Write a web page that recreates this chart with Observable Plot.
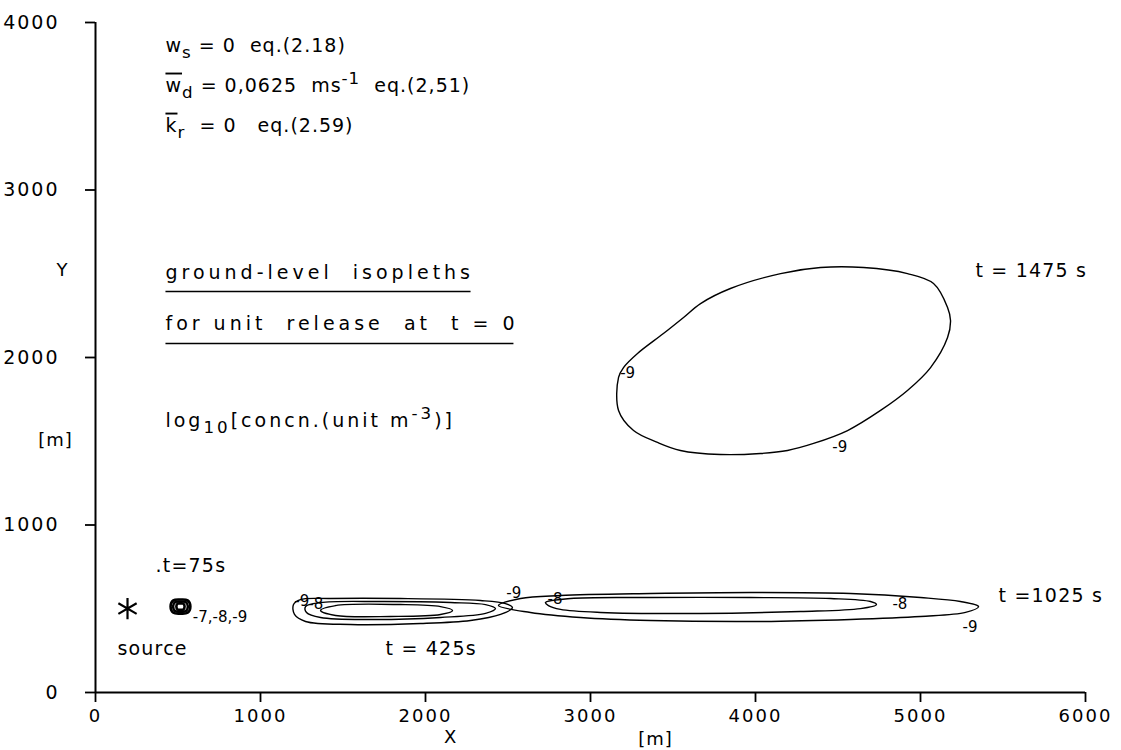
<!DOCTYPE html>
<html>
<head>
<meta charset="utf-8">
<script src="https://cdn.jsdelivr.net/npm/d3@7"></script>
<script src="https://cdn.jsdelivr.net/npm/@observablehq/plot@0.6"></script>
<style>
  html, body { margin: 0; padding: 0; background: #fff; overflow: hidden; }
  #chart { width: 1121px; height: 750px; }
  .ticks text { letter-spacing: 2px; }
  .ls-eq text { letter-spacing: 1px; }
  .ls-title text { letter-spacing: 4px; }
  .ls-log text { letter-spacing: 3px; }
  .ls-time text { letter-spacing: 1.2px; }
</style>
</head>
<body>
<div id="chart"></div>
<script>
// ---------------- data ----------------
const xTicks = [0, 1000, 2000, 3000, 4000, 5000, 6000];
const yTicks = [0, 1000, 2000, 3000, 4000];

const source = [{x: 194, y: 501}];

// contour polylines [X m, Y m], log10 concentration level
const c75_m9 = [[455,513],[472,550],[515,555],[558,550],[575,513],[558,476],[515,471],[472,476]];
const c75_m8 = [[470,513],[483,540],[515,543],[547,540],[560,513],[547,486],[515,483],[483,486]];
const c75_m7 = [[490,513],[497,530],[515,532],[533,530],[540,513],[533,496],[515,494],[497,496]];

const c425_m9 = [[1200,525],[1242,555],[1424,561],[1848,561],[2333,549],[2485,531],[2527,507],[2455,466],[2273,430],[1970,412],[1545,406],[1273,424],[1206,466]];
const c425_m8 = [[1273,513],[1364,537],[1727,543],[2152,537],[2364,525],[2424,501],[2364,472],[2091,448],[1667,436],[1364,448],[1279,478]];
const c425_m7 = [[1364,490],[1455,519],[1848,525],[2091,513],[2164,490],[2091,466],[1788,454],[1455,460]];

const c1025_m9 = [[2442,519],[2576,561],[2818,579],[3364,591],[3970,597],[4576,591],[5000,567],[5242,543],[5352,513],[5273,478],[5000,454],[4576,436],[4030,424],[3364,430],[2939,448],[2636,478]];
const c1025_m8 = [[2727,537],[2879,561],[3364,567],[3970,567],[4455,561],[4697,543],[4733,525],[4636,501],[4273,484],[3667,472],[3061,478],[2818,496],[2745,519]];

const c1475_m9 = [[4655,2537],[4394,2537],[4152,2501],[3848,2412],[3667,2322],[3564,2239],[3442,2143],[3285,2024],[3200,1940],[3170,1881],[3170,1684],[3261,1564],[3406,1493],[3545,1445],[3788,1421],[4030,1427],[4194,1445],[4352,1487],[4558,1564],[4758,1684],[4921,1803],[5061,1940],[5164,2119],[5182,2221],[5164,2299],[5079,2442],[4921,2501]];

const contourLabels = [
  {x: 3180, y: 1905, t: "-9"},
  {x: 4465, y: 1462, t: "-9"},
  {x: 2490, y: 590, t: "-9"},
  {x: 2740, y: 560, t: "-8"},
  {x: 4830, y: 528, t: "-8"},
  {x: 5255, y: 390, t: "-9"},
  {x: 1205, y: 548, t: "-9"},
  {x: 1290, y: 528, t: "-8"},
  {x: 590, y: 447, t: "-7,-8,-9"}
];

const timeLabels = [
  {x: 5333, y: 2519, t: "t = 1475 s"},
  {x: 5473, y: 579, t: "t =1025 s"},
  {x: 1758, y: 263, t: "t = 425s"},
  {x: 364, y: 758, t: ".t=75s"},
  {x: 133, y: 263, t: "source"}
];

const eqNotes = [
  {x: 424, y: 3863, t: "w_{s} = 0  eq.(2.18)"},
  {x: 424, y: 3624, t: "!{w}_{d} = 0,0625  ms^{-1}  eq.(2,51)"},
  {x: 424, y: 3385, t: "!{k}_{r}  = 0   eq.(2.59)"}
];
const titleNotes = [
  {x: 424, y: 2507, t: "ground-level  isopleths"},
  {x: 424, y: 2203, t: "for unit  release  at  t = 0"}
];
const logNote = [
  {x: 424, y: 1624, t: "log_{10}[concn.(unit m^{-3})]"}
];

const underlines = [
  {x1: 424, x2: 2273, y: 2394},
  {x1: 424, x2: 2533, y: 2084}
];

const axisTitles = [
  {x: 2152, y: -268, t: "X"},
  {x: 3394, y: -280, t: "[m]"},
  {x: -200, y: 2519, t: "Y"},
  {x: -242, y: 1504, t: "[m]"}
];

// ---------------- build table ----------------
const contours = [];
const add = (id, pts) => pts.forEach(([x, y]) => contours.push({id, x, y}));
add("425-9", c425_m9); add("425-8", c425_m8); add("425-7", c425_m7);
add("1025-9", c1025_m9); add("1025-8", c1025_m8);
add("1475-9", c1475_m9);
const contours75 = [];
[["75-9", c75_m9], ["75-8", c75_m8], ["75-7", c75_m7]].forEach(([id, pts]) => pts.forEach(([x, y]) => contours75.push({id, x, y})));

const FONT = "'DejaVu Sans', sans-serif";

const chart = Plot.plot({
  width: 1121,
  height: 750,
  marginLeft: 95,
  marginRight: 36,
  marginTop: 22,
  marginBottom: 58,
  x: {domain: [0, 6000]},
  y: {domain: [0, 4000]},
  style: {fontFamily: FONT, fontSize: "18px", color: "black", background: "white"},
  marks: [
    Plot.axisX({ticks: xTicks, tickSize: 10, tickPadding: 7, label: null, strokeWidth: 1.8, fontSize: 18, tickFormat: d => String(d), className: "ticks"}),
    Plot.axisY({ticks: yTicks, tickSize: 10, tickPadding: 26, label: null, strokeWidth: 1.8, fontSize: 19, tickFormat: d => String(d), className: "ticks"}),
    Plot.ruleY([0], {x1: 0, x2: 6000, stroke: "black", strokeWidth: 2}),
    Plot.ruleX([0], {y1: 0, y2: 4000, stroke: "black", strokeWidth: 2}),
    Plot.line(contours, {x: "x", y: "y", z: "id", curve: "catmull-rom-closed", stroke: "black", strokeWidth: 1.4}),
    Plot.line(contours75, {x: "x", y: "y", z: "id", curve: "catmull-rom-closed", stroke: "black", strokeWidth: 2.6}),
    Plot.dot(source, {x: "x", y: "y", symbol: "asterisk", r: 10, stroke: "black", strokeWidth: 2.2}),
    Plot.text(contourLabels, {x: "x", y: "y", text: "t", fontSize: 15, textAnchor: "start", fill: "black"}),
    Plot.text(timeLabels, {x: "x", y: "y", text: "t", fontSize: 19, textAnchor: "start", fill: "black", className: "ls-time"}),
    Plot.text(eqNotes, {x: "x", y: "y", text: "t", fontSize: 19, textAnchor: "start", fill: "black", className: "ls-eq"}),
    Plot.text(titleNotes, {x: "x", y: "y", text: "t", fontSize: 19, textAnchor: "start", fill: "black", className: "ls-title"}),
    Plot.text(logNote, {x: "x", y: "y", text: "t", fontSize: 19, textAnchor: "start", fill: "black", className: "ls-log"}),
    Plot.link(underlines, {x1: "x1", x2: "x2", y1: "y", y2: "y", stroke: "black", strokeWidth: 1.6}),
    Plot.text(axisTitles, {x: "x", y: "y", text: "t", fontSize: 18, textAnchor: "middle", fill: "black", className: "ls-eq"})
  ]
});

// rich text: _{sub}, ^{sup}, !{overline}
d3.select(chart).selectAll("text").each(function() {
  const el = d3.select(this);
  const s = this.textContent;
  if (!/[_^!]\{/.test(s)) return;
  el.text(null);
  const parts = s.match(/!\{[^}]*\}|_\{[^}]*\}|\^\{[^}]*\}|[^!_^]+/g);
  let shift = 0;
  for (const p of parts) {
    let txt = p, dy = 0, small = false, over = false;
    if (p.startsWith("!{")) { txt = p.slice(2, -1); over = true; }
    else if (p.startsWith("_{")) { txt = p.slice(2, -1); dy = 6; small = true; }
    else if (p.startsWith("^{")) { txt = p.slice(2, -1); dy = -8; small = true; }
    const ts = el.append("tspan").text(txt).attr("dy", dy - shift);
    shift = dy;
    if (small) ts.attr("font-size", "0.88em");
    if (over) ts.style("text-decoration", "overline");
  }
});

document.getElementById("chart").appendChild(chart);
</script>
</body>
</html>
